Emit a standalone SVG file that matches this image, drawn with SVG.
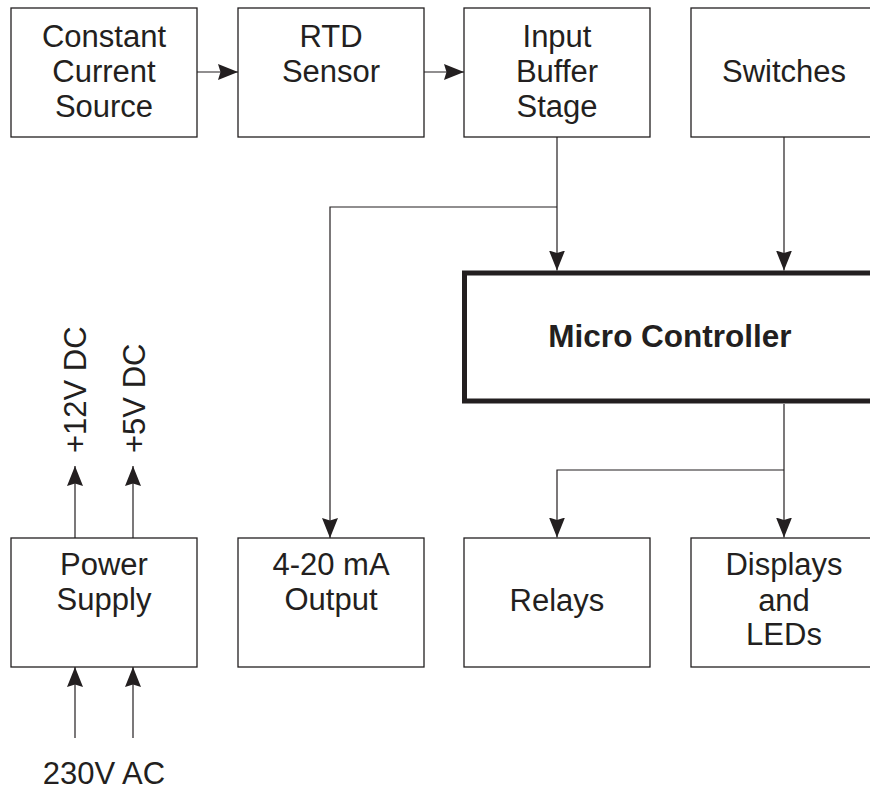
<svg xmlns="http://www.w3.org/2000/svg" width="870" height="792" viewBox="0 0 870 792">
<style>
.box{fill:#fff;stroke:#231f20;stroke-width:1.3}
.mc{fill:#fff;stroke:#231f20;stroke-width:5}
.t{font-family:"Liberation Sans",Arial,sans-serif;font-size:31px;fill:#231f20;text-anchor:middle}
.b{font-weight:bold;font-size:31.5px}
.c{fill:none;stroke:#231f20;stroke-width:1.2}
</style>
<defs>
<marker id="ah" viewBox="0 0 20 16" refX="20" refY="8" markerWidth="20" markerHeight="16" markerUnits="userSpaceOnUse" orient="auto">
<path d="M0,0 L20,8 L0,16 L2.5,8 z" fill="#231f20"/>
</marker>
</defs>
<rect width="870" height="792" fill="#fff"/>
<g id="connectors">
<path class="c" d="M197,72 H238" marker-end="url(#ah)"/>
<path class="c" d="M424,72 H464" marker-end="url(#ah)"/>
<path class="c" d="M557,137 V270.5" marker-end="url(#ah)"/>
<path class="c" d="M557,207 H330 V538" marker-end="url(#ah)"/>
<path class="c" d="M784,137 V270.5" marker-end="url(#ah)"/>
<path class="c" d="M784,404 V537.5" marker-end="url(#ah)"/>
<path class="c" d="M784,470 H557 V537.5" marker-end="url(#ah)"/>
<path class="c" d="M75,538 V466" marker-end="url(#ah)"/>
<path class="c" d="M133,538 V466" marker-end="url(#ah)"/>
<path class="c" d="M75,738 V667" marker-end="url(#ah)"/>
<path class="c" d="M133,738 V667" marker-end="url(#ah)"/>
</g>
<g id="constant-current-source">
<rect class="box" x="11" y="8" width="186" height="129"/>
<text class="t" x="104" y="47">Constant</text>
<text class="t" x="104" y="82">Current</text>
<text class="t" x="104" y="117">Source</text>
</g>
<g id="rtd-sensor">
<rect class="box" x="238" y="8" width="186" height="129"/>
<text class="t" x="331" y="47">RTD</text>
<text class="t" x="331" y="82">Sensor</text>
</g>
<g id="input-buffer-stage">
<rect class="box" x="464" y="8" width="186" height="129"/>
<text class="t" x="557" y="47">Input</text>
<text class="t" x="557" y="82">Buffer</text>
<text class="t" x="557" y="117">Stage</text>
</g>
<g id="switches">
<rect class="box" x="691" y="8" width="186" height="129"/>
<text class="t" x="784" y="82">Switches</text>
</g>
<g id="micro-controller">
<rect class="mc" x="464.5" y="273" width="420" height="128"/>
<text class="t b" x="670" y="347">Micro Controller</text>
</g>
<g id="power-supply">
<rect class="box" x="11" y="538" width="186" height="129"/>
<text class="t" x="104" y="575">Power</text>
<text class="t" x="104" y="610">Supply</text>
</g>
<g id="output-4-20ma">
<rect class="box" x="238" y="538" width="186" height="129"/>
<text class="t" x="331" y="575">4-20 mA</text>
<text class="t" x="331" y="610">Output</text>
</g>
<g id="relays">
<rect class="box" x="464" y="538" width="186" height="129"/>
<text class="t" x="557" y="611">Relays</text>
</g>
<g id="displays-leds">
<rect class="box" x="691" y="538" width="186" height="129"/>
<text class="t" x="784" y="575">Displays</text>
<text class="t" x="784" y="611">and</text>
<text class="t" x="784" y="645">LEDs</text>
</g>
<g id="labels">
<text class="t" style="text-anchor:start" transform="translate(86,453) rotate(-90)">+12V DC</text>
<text class="t" style="text-anchor:start" transform="translate(145,453) rotate(-90)">+5V DC</text>
<text class="t" x="104" y="784">230V AC</text>
</g>
</svg>
